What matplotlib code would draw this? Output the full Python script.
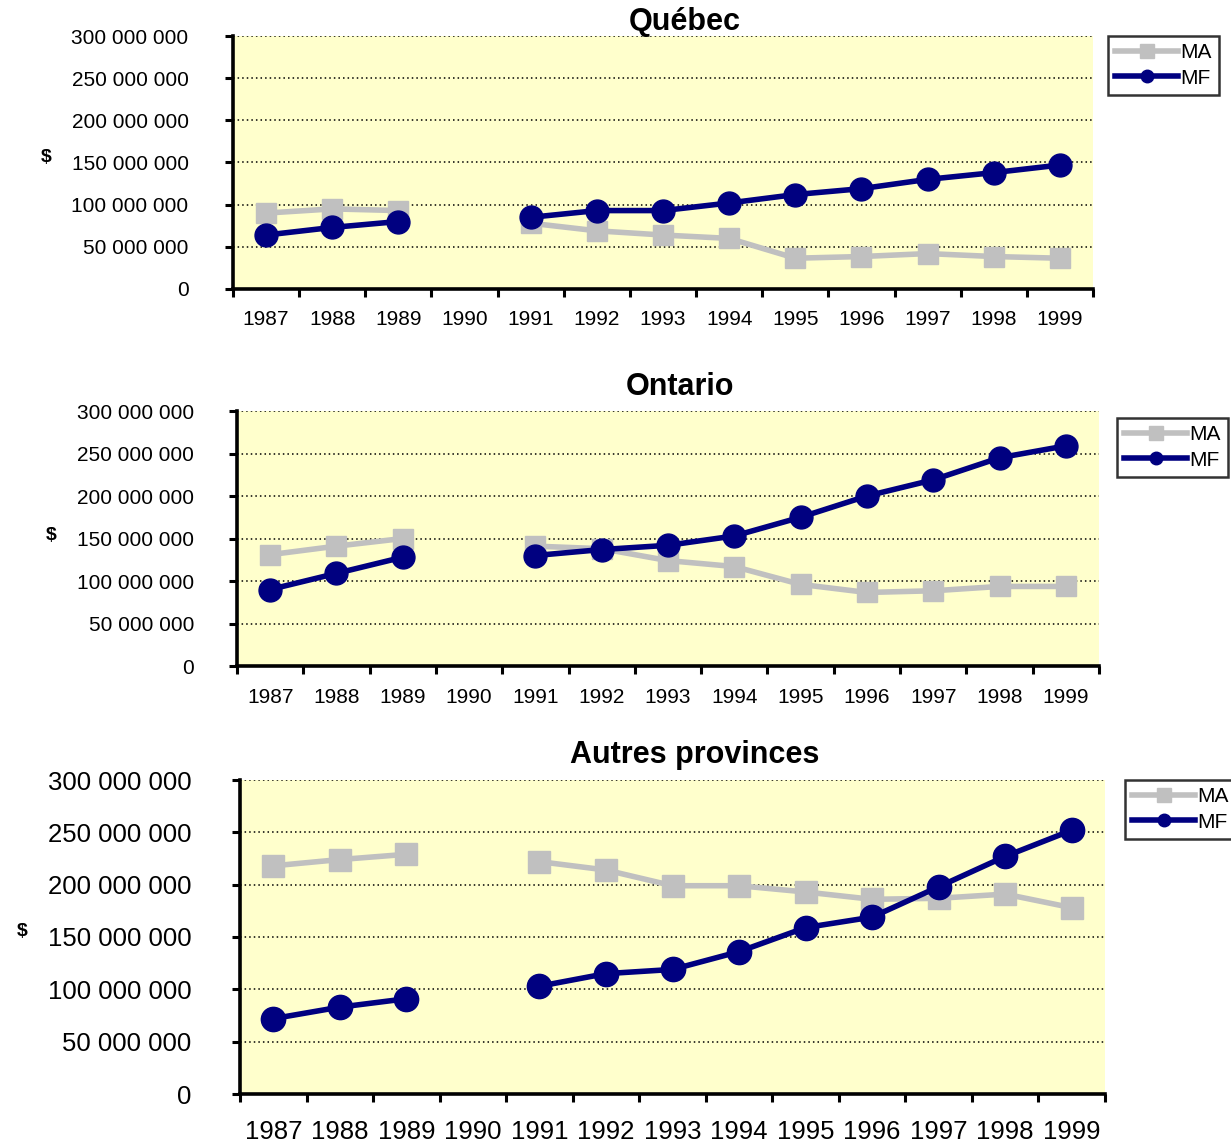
import numpy as np
import matplotlib
matplotlib.use('Agg')
import matplotlib.pyplot as plt
from matplotlib.lines import Line2D

plt.rcParams['font.family'] = ['Liberation Sans', 'DejaVu Sans']

years = ['1987', '1988', '1989', '1990', '1991', '1992', '1993',
         '1994', '1995', '1996', '1997', '1998', '1999']
yticks = [0, 50e6, 100e6, 150e6, 200e6, 250e6, 300e6]
ylabels = ['0', '50 000 000', '100 000 000', '150 000 000',
           '200 000 000', '250 000 000', '300 000 000']
nan = np.nan

# millions de dollars, 1990 absent
quebec_ma = [90, 95, 93, nan, 78, 69, 64, 60, 36.5, 38.5, 42, 38.5, 36.5]
quebec_mf = [64, 73, 80, nan, 85, 93, 93, 102, 112, 119, 130, 138, 147]
ontario_ma = [131, 141, 150, nan, 141, 138, 124, 117, 96, 86.5, 88.5, 93.6, 93.6]
ontario_mf = [90, 109, 128, nan, 130, 137, 142, 153, 175, 200, 219, 245, 259]
autres_ma = [218, 224, 229, nan, 222, 214, 199, 199, 193, 186, 187, 191, 178]
autres_mf = [72, 83, 91, nan, 103, 115, 119, 136, 159, 169, 198, 227, 252]

titles = ['Québec', 'Ontario', 'Autres provinces']
series = [(quebec_ma, quebec_mf), (ontario_ma, ontario_mf), (autres_ma, autres_mf)]

W, H = 1231, 1147
fig = plt.figure(figsize=(W / 100, H / 100), dpi=100)

# pixel boxes: left, right, top, bottom
boxes = [(233, 1093, 36, 289), (237, 1099, 411, 666), (240, 1105, 780, 1094)]
tick_fs = [15, 15, 18.5]
ypads = [26, 25, 29]
xpads = [10, 11, 14]
title_pos = [(685, 22), (680, 387), (695, 755)]
dollar_pos = [(46, 158), (51, 535), (22, 932)]
legend_pos = [(1108, 36), (1117, 418), (1125, 780)]
msize = [16.5, 16.5, 17.5]

gray = '#C0C0C0'
navy = '#000080'

for i in range(3):
    l, r, t, b = boxes[i]
    ax = fig.add_axes([l / W, 1 - b / H, (r - l) / W, (b - t) / H])
    ax.set_facecolor('#FFFFCC')
    x = np.arange(len(years))
    ma = np.array(series[i][0]) * 1e6
    mf = np.array(series[i][1]) * 1e6
    ax.plot(x, ma, color=gray, lw=4, marker='s', ms=msize[i] - 1.5, zorder=3)
    ax.plot(x, mf, color=navy, lw=4, marker='o', ms=msize[i], zorder=4)

    ax.set_xlim(-0.5, len(years) - 0.5)
    ax.set_ylim(0, 300e6)
    ax.set_yticks(yticks)
    ax.set_yticklabels(ylabels, fontsize=tick_fs[i])
    ax.set_xticks(x)
    ax.set_xticklabels(years, fontsize=tick_fs[i])
    ax.set_xticks(np.arange(-0.5, len(years)), minor=True)
    ax.tick_params(axis='x', which='major', length=0, pad=xpads[i] + 5)
    ax.tick_params(axis='x', which='minor', length=6, width=2.2, direction='out')
    ax.tick_params(axis='y', length=6, width=2.2, direction='out', pad=ypads[i])

    for s in ['top', 'right']:
        ax.spines[s].set_visible(False)
    for s in ['left', 'bottom']:
        ax.spines[s].set_linewidth(2.6)
        ax.spines[s].set_zorder(5)
    ax.yaxis.grid(True, color='black', linestyle=(0, (1, 2)), linewidth=1.1)
    ax.set_axisbelow(True)

    tx, ty = title_pos[i]
    fig.text(tx / W, 1 - ty / H, titles[i], ha='center', va='center',
             fontsize=22, fontweight='bold')
    dx, dy = dollar_pos[i]
    fig.text(dx / W, 1 - dy / H, '$', ha='center', va='center',
             fontsize=14, fontweight='bold')

    handles = [Line2D([], [], color=gray, lw=4, marker='s', ms=10),
               Line2D([], [], color=navy, lw=4, marker='o', ms=9)]
    lx, ly = legend_pos[i]
    leg = fig.legend(handles, ['MA', 'MF'], loc='upper left',
                     bbox_to_anchor=(lx / W, 1 - ly / H), bbox_transform=fig.transFigure,
                     borderaxespad=0, fontsize=15, frameon=True, fancybox=False,
                     handlelength=3.0, handletextpad=0.1, labelspacing=0.3,
                     borderpad=0.35, edgecolor='black')
    leg.get_frame().set_linewidth(1.8)

fig.savefig('out.png', dpi=100)
